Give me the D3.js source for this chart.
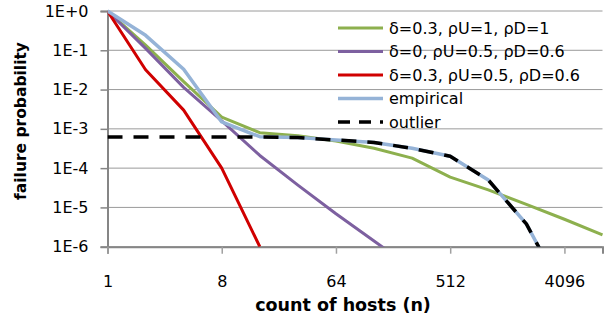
<!DOCTYPE html>
<html>
<head>
<meta charset="utf-8">
<script src="https://cdn.jsdelivr.net/npm/d3@7"></script>
<style>
  body { margin: 0; background: #fff; }
  svg { display: block; font-family: "DejaVu Sans", sans-serif; }
</style>
</head>
<body>
<div id="chart"></div>
<script>
// host counts (x) - powers of two
const hosts = [1, 2, 4, 8, 16, 32, 64, 128, 256, 512, 1024, 2048, 4096, 8192];

// failure probabilities, one value per host count
const green = [1, 0.135, 0.016, 2.0e-3, 8.0e-4, 6.7e-4, 4.9e-4, 3.2e-4, 1.8e-4, 5.9e-5, 2.8e-5, 1.2e-5, 5.0e-6, 2.0e-6];
const purple = [1, 0.112, 0.0114, 1.6e-3, 2.1e-4, 3.7e-5, 6.9e-6, 1.4e-6, 2.8e-7];
const red = [1, 0.032, 0.003, 1.0e-4, 1.0e-6];
const empirical = [1, 0.24, 0.033, 1.5e-3, 6.3e-4, 6.0e-4, 5.2e-4, 4.5e-4, 3.2e-4, 2.0e-4, 5.0e-5, 3.8e-6, 6.0e-8];
const outlier = [6.2e-4, 6.2e-4, 6.2e-4, 6.2e-4, 6.2e-4, 6.0e-4, 5.2e-4, 4.5e-4, 3.2e-4, 2.0e-4, 5.0e-5, 3.8e-6, 6.0e-8];

const seriesNames = ["δ=0.3, ρU=1, ρD=1", "δ=0, ρU=0.5, ρD=0.6", "δ=0.3, ρU=0.5, ρD=0.6", "empirical", "outlier"];
const xTicks = [1, 8, 64, 512, 4096];
const yTicks = [1, 1e-1, 1e-2, 1e-3, 1e-4, 1e-5, 1e-6];
const yTickLabels = ["1E+0", "1E-1", "1E-2", "1E-3", "1E-4", "1E-5", "1E-6"];

const series = [
  { name: seriesNames[0], values: green, color: "#8DB04E", width: 3, dash: null },
  { name: seriesNames[1], values: purple, color: "#7D60A0", width: 3, dash: null },
  { name: seriesNames[2], values: red, color: "#D00000", width: 3, dash: null },
  { name: seriesNames[3], values: empirical, color: "#95B3D7", width: 3.5, dash: null },
  { name: seriesNames[4], values: outlier, color: "#000000", width: 3.5, dash: "15,11" }
];

const W = 611, H = 322;
const plotLeft = 107.5, plotRight = 602.5, plotTop = 11, plotBottom = 246.7;

const svg = d3.select("#chart").append("svg")
  .attr("width", W)
  .attr("height", H);

const x = d3.scaleLog().base(2)
  .domain([1, 8192])
  .range([plotLeft, plotRight]);

const y = d3.scaleLog()
  .domain([1e-6, 1])
  .range([plotBottom, plotTop]);

svg.append("defs").append("clipPath")
  .attr("id", "plot")
  .append("rect")
  .attr("x", plotLeft)
  .attr("y", plotTop - 2)
  .attr("width", plotRight - plotLeft + 2)
  .attr("height", plotBottom - plotTop + 2);

// horizontal gridlines
svg.append("g")
  .selectAll("line")
  .data(yTicks)
  .enter()
  .append("line")
  .attr("x1", plotLeft)
  .attr("x2", plotRight)
  .attr("y1", d => y(d))
  .attr("y2", d => y(d))
  .attr("stroke", "#9a9a9a")
  .attr("stroke-width", 1);

// y axis
const yAxis = svg.append("g")
  .attr("transform", "translate(" + plotLeft + ",0)")
  .call(d3.axisLeft(y).tickValues(yTicks).tickFormat((d, i) => yTickLabels[i]).tickSize(7).tickPadding(12));
yAxis.select(".domain").attr("stroke", "#868686").attr("stroke-width", 2);
yAxis.selectAll(".tick line").attr("stroke", "#868686").attr("stroke-width", 1.5);
yAxis.selectAll("text").attr("font-size", 16).attr("fill", "#000").attr("font-family", "DejaVu Sans");

// x axis
const xAxis = svg.append("g")
  .attr("transform", "translate(0," + plotBottom + ")")
  .call(d3.axisBottom(x).tickValues(xTicks).tickFormat(d3.format("d")).tickSize(7).tickPadding(22));
xAxis.select(".domain").attr("stroke", "#868686").attr("stroke-width", 2);
xAxis.selectAll(".tick line").attr("stroke", "#a0a0a0").attr("stroke-width", 1.5);
xAxis.selectAll("text").attr("font-size", 16).attr("fill", "#000").attr("font-family", "DejaVu Sans");

// series lines
const line = d3.line()
  .x((d, i) => x(hosts[i]))
  .y(d => y(d));

const lines = svg.append("g").attr("clip-path", "url(#plot)");
series.forEach(s => {
  lines.append("path")
    .datum(s.values)
    .attr("d", line)
    .attr("fill", "none")
    .attr("stroke", s.color)
    .attr("stroke-width", s.width)
    .attr("stroke-linejoin", "round")
    .attr("stroke-dasharray", s.dash);
});

// legend
const legend = svg.append("g").attr("transform", "translate(338,28)");
series.forEach((s, i) => {
  const row = legend.append("g").attr("transform", "translate(0," + i * 23.5 + ")");
  row.append("line")
    .attr("x1", 0).attr("x2", 45)
    .attr("stroke", s.color)
    .attr("stroke-width", s.width)
    .attr("stroke-dasharray", s.dash ? "12,9" : null);
  row.append("text")
    .attr("x", 51)
    .attr("dy", "0.36em")
    .attr("font-size", 16)
    .text(s.name);
});

// axis titles
svg.append("text")
  .attr("x", 343)
  .attr("y", 311)
  .attr("text-anchor", "middle")
  .attr("font-size", 17.5)
  .attr("font-weight", "bold")
  .text("count of hosts (n)");

svg.append("text")
  .attr("transform", "translate(26,121)rotate(-90)")
  .attr("text-anchor", "middle")
  .attr("font-size", 15.5)
  .attr("font-weight", "bold")
  .text("failure probability");
</script>
</body>
</html>
